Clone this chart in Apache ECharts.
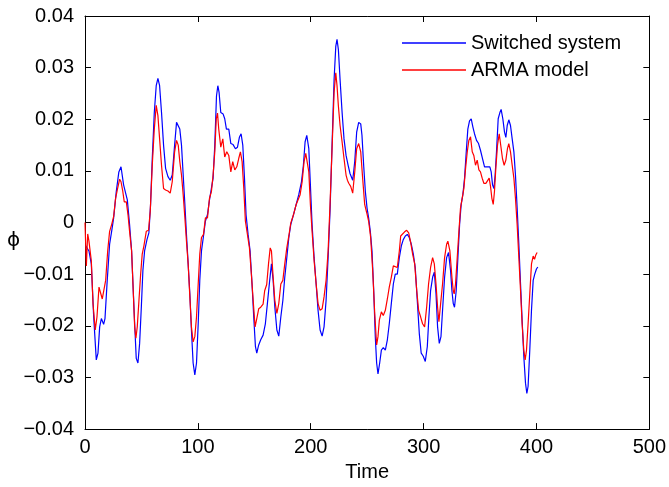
<!DOCTYPE html>
<html><head><meta charset="utf-8">
<script src="https://cdn.jsdelivr.net/npm/echarts@6/dist/echarts.min.js"></script>
<style>html,body{margin:0;padding:0;background:#fff}#c{width:669px;height:487px}</style>
</head><body><div id="c"></div>
<script>
const seriesNames = ['Switched system', 'ARMA model'];
const xTicks = [0, 100, 200, 300, 400, 500];
const yTicks = [-0.04, -0.03, -0.02, -0.01, 0, 0.01, 0.02, 0.03, 0.04];
const switchedT = [0.6,3.5,5.6,7.7,10,11.5,13,14.5,16.5,17.7,19.5,21.8,23.6,25.4,27.7,30,31.9,33,34.2,36,37.5,39.5,41.3,42.5,44,45.4,46.9,48.4,49.9,51.3,52.8,54.9,56.6,58.1,59.6,61.4,63.1,64.6,66.1,67.8,69.6,71.4,73.5,75.5,77.3,79.4,81.1,82.6,84,85.5,87,88.5,89.9,91.4,92.9,94.3,95.8,97.3,98.8,100.3,101.7,103.2,105,106.7,108.5,110.3,112,113.5,115,116.5,117.7,118.8,120.3,122.4,123.8,125.3,127.4,129.2,131.2,133.3,135.1,136.8,138.3,139.8,141.3,142.7,144.5,146.3,148,149.5,151,152.2,153.9,155.7,157.8,159.8,161.6,163.5,165.2,166.7,168.2,170,171.7,173.5,175.3,177,178.8,180.6,182.3,184.7,187.1,189.4,191.8,193.5,195,196.5,198.3,199.7,201.2,203,204.8,206.5,208.3,210.1,211.8,213.6,215.4,217.1,218.9,220.7,222.2,223.3,224.5,226,227.8,229.5,231.3,233.1,234.8,237.2,239,240.7,242.5,244.3,245.4,246.9,248.4,249.9,251.3,252.8,254.3,255.8,257.2,258.4,259.6,261.1,262.6,264.3,266.1,267.9,269.6,271.4,273.2,274.9,276.7,278.5,280.3,282,283.8,285.6,287.3,289.1,290.9,292.6,294.4,296.2,297.9,299.7,301.5,303.3,304.7,306.2,308,309.5,311,312.4,313.9,315.4,316.8,318.6,320.4,322.1,323.9,325.1,326.3,327.4,328.9,330.4,331.9,333.3,334.8,336.3,337.8,339.2,340.7,342.2,343.7,345.1,346.9,348.7,350.4,352.2,354,355.8,357.5,358.7,359.9,361.1,362.3,363.4,364.6,366.1,367.6,368.7,370.2,371.7,372.9,374.1,375.5,377,378.5,380,381.4,382.9,384.4,385.9,387.3,388.8,390.3,391.5,392.6,394.1,395.6,397.1,398.5,400,401.2];
const switchedV = [-0.0045,-0.0055,-0.008,-0.0183,-0.0266,-0.0253,-0.0202,-0.0186,-0.0197,-0.0186,-0.0119,-0.0042,-0.0017,0.0009,0.006,0.0098,0.0108,0.0105,0.0073,0.0057,0.0044,-0.0004,-0.0055,-0.0119,-0.0196,-0.0263,-0.0272,-0.0234,-0.0164,-0.0093,-0.0055,-0.0033,-0.002,0.0035,0.0124,0.0213,0.0265,0.0279,0.0265,0.0213,0.015,0.0105,0.0089,0.0082,0.0092,0.015,0.0194,0.0197,0.0181,0.015,0.0092,0.0035,-0.0023,-0.008,-0.0138,-0.0208,-0.0272,-0.0295,-0.0272,-0.0196,-0.0112,-0.0055,-0.0026,0.0003,0.0015,0.0044,0.0066,0.0086,0.015,0.0245,0.0265,0.0252,0.0213,0.021,0.0201,0.0181,0.0181,0.0153,0.0151,0.0143,0.0146,0.0165,0.0172,0.015,0.0086,0.0015,-0.0023,-0.0055,-0.0119,-0.0183,-0.024,-0.0253,-0.0237,-0.0227,-0.0218,-0.0196,-0.0157,-0.0115,-0.008,-0.0112,-0.0164,-0.0208,-0.022,-0.0183,-0.0151,-0.0106,-0.0068,-0.0029,-0.0004,0.0015,0.0035,0.0054,0.0079,0.0111,0.0156,0.0169,0.0143,0.0073,-0.0004,-0.0068,-0.0119,-0.017,-0.0208,-0.022,-0.0202,-0.0151,-0.0068,0.0022,0.015,0.0277,0.0341,0.0355,0.0335,0.0277,0.0213,0.0162,0.013,0.0111,0.0095,0.0082,0.0118,0.0175,0.0194,0.0191,0.0169,0.0111,0.006,0.0028,0.0009,-0.0017,-0.0055,-0.0131,-0.0221,-0.0272,-0.0293,-0.0272,-0.0247,-0.0242,-0.0247,-0.0227,-0.0196,-0.0157,-0.0119,-0.01,-0.01,-0.0068,-0.0045,-0.0033,-0.0026,-0.0023,-0.0029,-0.0042,-0.0061,-0.0087,-0.0151,-0.0215,-0.0253,-0.0259,-0.0269,-0.024,-0.0183,-0.0132,-0.0106,-0.0096,-0.0138,-0.0202,-0.0234,-0.0221,-0.017,-0.0106,-0.0068,-0.0058,-0.0093,-0.0132,-0.0157,-0.0164,-0.0132,-0.0068,-0.0004,0.0035,0.0054,0.0086,0.0137,0.0181,0.0197,0.0201,0.0185,0.0172,0.0159,0.0153,0.014,0.0124,0.0108,0.0108,0.0105,0.0108,0.0098,0.0073,0.0066,0.0092,0.0137,0.0201,0.0213,0.0219,0.0201,0.0175,0.0165,0.0188,0.0199,0.0188,0.0162,0.0137,0.0092,0.0028,-0.0042,-0.0119,-0.0189,-0.0259,-0.0311,-0.0331,-0.0317,-0.0247,-0.017,-0.0112,-0.01,-0.009,-0.0086];
const armaT = [0,1.2,2.4,3.5,5.6,7.1,9.1,10.6,12.4,13.6,15.3,16.8,18.3,20.1,21.8,23.6,25.4,27.1,28.9,30.7,31.9,33.3,34.8,36.6,38.1,39.5,41.3,42.5,44,45.1,46.3,47.8,49.3,50.7,52.2,54.3,56.3,57.8,59.6,61.4,63.1,64.6,66.1,67.8,69.6,71.4,73.5,75.5,77.3,79.4,81.1,82.6,84,85.5,87,88.5,89.9,91.4,92.9,94.3,95.8,97.3,98.8,100.3,101.7,103.2,105,106.7,108.5,110.3,112,113.5,115,116.3,117.4,118.5,120.3,122.1,123.8,125.6,127.4,129.2,130.9,132.7,134.5,136.2,137.7,139.2,140.7,142.1,143.9,145.7,147.4,149.2,150.7,152.2,153.9,155.7,157.8,159.2,161,162.6,164.1,165.2,166.7,168.2,170,171.7,173.5,175.3,177,178.8,180.6,182.3,184.7,187.1,188.8,190.6,192.4,194.1,195.6,196.5,198.3,199.7,201.2,203,204.8,206.5,208.3,210.1,211.8,213.6,215.4,217.1,218.9,220.7,222.2,223.3,224.5,226,227.8,229.5,231.3,232.5,233.7,235.4,237.2,239,240.7,242.5,244.3,246,247.8,249.6,251.3,253.1,254.9,256.7,258.4,259.6,260.8,262.6,264.3,266.1,267.9,269.6,271.4,273.2,274.9,276.7,278.5,279.7,281.4,283.2,285,286.8,288.6,290.3,292.1,293.9,295.6,297.4,299.1,300.9,302.7,304.4,306.2,308,309.5,311,312.4,313.6,315.1,316.8,318.6,320.4,321.5,323.3,325.1,326.3,327.1,328.3,329.8,331.3,332.7,334.2,335.7,337.2,338.7,340.1,341.6,343.1,344.5,346,347.5,349,350.4,351.9,353.4,355.2,356.9,358.1,359.3,360.5,361.7,362.8,364,365.5,367,368.5,369.9,371.4,372.9,374.3,375.5,377,378.5,380,381.4,382.9,384.4,385.9,387.3,388.8,390,391.2,392.6,394.1,395.6,397.1,398.3,399.4,400.6];
const armaV = [0,-0.0084,-0.0022,-0.0036,-0.0074,-0.0157,-0.0208,-0.0183,-0.0125,-0.0124,-0.0148,-0.0151,-0.0112,-0.0055,-0.0017,-0.0004,0.0012,0.0047,0.0066,0.0084,0.0079,0.0063,0.004,0.004,0.0015,-0.0017,-0.0055,-0.0119,-0.0202,-0.0224,-0.0202,-0.0151,-0.01,-0.0061,-0.0045,-0.0017,-0.0015,0.0022,0.0111,0.0181,0.0227,0.0207,0.0162,0.0111,0.0066,0.0063,0.0061,0.0057,0.0079,0.0137,0.0159,0.015,0.0118,0.0092,0.0054,0.0009,-0.0036,-0.008,-0.0144,-0.0202,-0.0231,-0.0221,-0.0183,-0.0119,-0.0061,-0.0029,-0.0023,0.0009,0.0009,0.0047,0.006,0.0092,0.0137,0.0201,0.0212,0.0181,0.0146,0.0162,0.0127,0.0137,0.013,0.0098,0.0118,0.0102,0.0108,0.0124,0.0137,0.0118,0.0066,0.0003,-0.0023,-0.0049,-0.01,-0.0157,-0.0202,-0.0186,-0.0167,-0.0164,-0.0158,-0.0132,-0.012,-0.008,-0.0049,-0.0055,-0.0106,-0.0151,-0.0176,-0.0157,-0.0119,-0.0112,-0.008,-0.0049,-0.0026,-0.0001,0.0015,0.0035,0.0038,0.0054,0.0079,0.0118,0.0134,0.0137,0.0098,0.0035,-0.0017,-0.0074,-0.0119,-0.0157,-0.017,-0.0167,-0.0144,-0.0112,-0.0055,0.0035,0.0143,0.0252,0.029,0.0265,0.0226,0.0188,0.0156,0.0124,0.0092,0.0082,0.0076,0.007,0.0057,0.0098,0.0143,0.0153,0.0137,0.0086,0.0035,0.0019,0.0003,-0.0029,-0.0093,-0.0176,-0.0237,-0.0221,-0.0189,-0.0173,-0.018,-0.017,-0.0148,-0.0125,-0.0106,-0.0084,-0.0084,-0.0087,-0.0055,-0.0026,-0.0023,-0.0018,-0.0015,-0.002,-0.0039,-0.0061,-0.008,-0.0131,-0.017,-0.0183,-0.0196,-0.0202,-0.0164,-0.0119,-0.0087,-0.0068,-0.008,-0.0119,-0.0164,-0.0192,-0.0157,-0.0119,-0.0068,-0.0042,-0.0036,-0.0055,-0.0106,-0.0132,-0.0138,-0.0119,-0.0068,-0.0017,0.0028,0.0047,0.0066,0.0105,0.0137,0.0159,0.0166,0.0137,0.013,0.0111,0.0121,0.0102,0.0098,0.0086,0.0076,0.0076,0.0079,0.0086,0.007,0.0047,0.0035,0.006,0.0105,0.015,0.0172,0.017,0.0124,0.0111,0.0121,0.0143,0.0153,0.0137,0.0111,0.0086,0.0047,-0.0004,-0.0068,-0.0132,-0.0196,-0.0247,-0.0266,-0.0247,-0.0196,-0.0138,-0.008,-0.0065,-0.0071,-0.0063,-0.0058];

const FONT = '"Liberation Sans", Arial, Helvetica, sans-serif';
const zip = (a, b) => a.map((t, i) => [t, b[i]]);
const fmtY = v => {
  const r = Math.round(v * 100) / 100;
  if (r === 0) return '0';
  return (r < 0 ? '\u2212' : '') + Math.abs(r).toFixed(2);
};
const xMin = xTicks[0], xMax = xTicks[xTicks.length - 1], xInt = xTicks[1] - xTicks[0];
const yMin = yTicks[0], yMax = yTicks[yTicks.length - 1], yInt = 0.01;
const axisCommon = {
  axisLine: { show: true, onZero: false, lineStyle: { color: '#000', width: 1 } },
  axisTick: { show: true, inside: true, length: 6, lineStyle: { color: '#000' } },
  splitLine: { show: false }
};
const chart = echarts.init(document.getElementById('c'), null, { renderer: 'canvas' });
chart.setOption({
  backgroundColor: '#fff',
  animation: false,
  textStyle: { fontFamily: FONT },
  grid: { left: 85, right: 19, top: 16, bottom: 54, containLabel: false },
  legend: {
    orient: 'vertical', left: 402, top: 33, padding: 0, itemWidth: 64, itemHeight: 1.5, itemGap: 7,
    icon: 'rect', textStyle: { fontFamily: FONT, fontSize: 20, color: '#000' },
    data: seriesNames
  },
  xAxis: [
    Object.assign({ type: 'value', position: 'bottom', min: xMin, max: xMax, interval: xInt,
      name: 'Time', nameLocation: 'middle', nameGap: 31,
      nameTextStyle: { fontFamily: FONT, fontSize: 20, color: '#000' },
      axisLabel: { fontFamily: FONT, fontSize: 20, color: '#000', margin: 8 } }, axisCommon),
    Object.assign({ type: 'value', position: 'top', min: xMin, max: xMax, interval: xInt,
      axisLabel: { show: false } }, axisCommon)
  ],
  yAxis: [
    Object.assign({ type: 'value', position: 'left', min: yMin, max: yMax, interval: yInt,
      axisLabel: { fontFamily: FONT, fontSize: 20, color: '#000', margin: 11, formatter: fmtY } }, axisCommon),
    Object.assign({ type: 'value', position: 'right', min: yMin, max: yMax, interval: yInt,
      axisLabel: { show: false } }, axisCommon)
  ],
  graphic: [{ type: 'text', left: 7, top: 231, style: { text: '\u03D5', font: '20px "DejaVu Sans", sans-serif', fill: '#000' } }],
  series: [
    { name: seriesNames[0], type: 'line', data: zip(switchedT, switchedV), symbol: 'none', smooth: false,
      lineStyle: { color: '#0000ff', width: 1.2 }, itemStyle: { color: '#0000ff' } },
    { name: seriesNames[1], type: 'line', data: zip(armaT, armaV), symbol: 'none', smooth: false,
      lineStyle: { color: '#ff0000', width: 1.2 }, itemStyle: { color: '#ff0000' } }
  ]
});
</script></body></html>
